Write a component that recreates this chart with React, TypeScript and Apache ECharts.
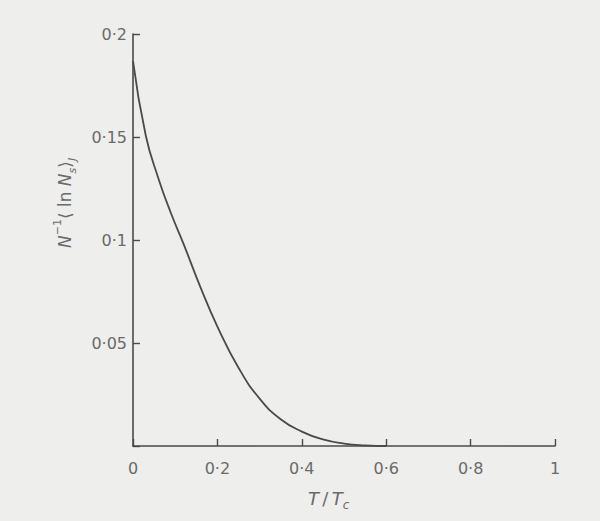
import React, { useEffect, useRef } from "react";
import * as echarts from "echarts";

const tValues = [0, 0.03, 0.06, 0.09, 0.12, 0.16, 0.2, 0.25, 0.3, 0.35, 0.4, 0.45, 0.5, 0.55, 0.6];
const nValues = [0.187, 0.151, 0.13, 0.113, 0.098, 0.077, 0.058, 0.038, 0.023, 0.013, 0.007, 0.0032, 0.0012, 0.0003, 0];
const xTicks = [0, 0.2, 0.4, 0.6, 0.8, 1];
const yTicks = [0.05, 0.1, 0.15, 0.2];

const fmt = (v: number) => (v === 0 ? "0" : v === 1 ? "1" : String(v).replace(".", "·"));

export default function App() {
  const ref = useRef<HTMLDivElement>(null);
  useEffect(() => {
    const chart = echarts.init(ref.current!, null, { renderer: "svg" });
    const ink = "#4a4a4a";
    const labelColor = "#6a6a6a";
    chart.setOption({
      animation: false,
      backgroundColor: "#eeeeec",
      grid: { left: 133, right: 45, top: 34, bottom: 75 },
      xAxis: {
        type: "value",
        min: 0,
        max: 1,
        interval: 0.2,
        axisLine: { lineStyle: { color: ink, width: 1.6 } },
        axisTick: { inside: true, length: 7, lineStyle: { color: ink, width: 1.4 } },
        splitLine: { show: false },
        axisLabel: {
          color: labelColor,
          fontSize: 16,
          fontFamily: "DejaVu Sans",
          margin: 14,
          formatter: (v: number) => (xTicks.includes(Math.round(v * 10) / 10) ? fmt(Math.round(v * 10) / 10) : ""),
        },
      },
      yAxis: {
        type: "value",
        min: 0,
        max: 0.2,
        interval: 0.05,
        axisLine: { lineStyle: { color: ink, width: 1.6 } },
        axisTick: { inside: true, length: 7, lineStyle: { color: ink, width: 1.4 } },
        splitLine: { show: false },
        axisLabel: {
          color: labelColor,
          fontSize: 16,
          fontFamily: "DejaVu Sans",
          margin: 6,
          formatter: (v: number) => {
            const r = Math.round(v * 100) / 100;
            return yTicks.includes(r) ? fmt(r) : "";
          },
        },
      },
      series: [
        {
          type: "line",
          data: tValues.map((t, i) => [t, nValues[i]]),
          smooth: 0.5,
          showSymbol: false,
          lineStyle: { color: ink, width: 1.8 },
        },
      ],
      graphic: [
        {
          type: "text",
          x: 52,
          y: 248,
          rotation: Math.PI / 2,
          style: {
            text: "{i|N}{sup|−1}{n|⟨ ln }{i|N}{sub|s}{n|⟩}{sub|J}",
            fill: labelColor,
            rich: {
              i: { fontSize: 17, fontStyle: "italic", fontFamily: "DejaVu Sans", fill: labelColor, lineHeight: 26, verticalAlign: "middle" },
              n: { fontSize: 17, fontFamily: "DejaVu Sans", fill: labelColor, lineHeight: 26, verticalAlign: "middle" },
              sup: { fontSize: 11, fontFamily: "DejaVu Sans", fill: labelColor, lineHeight: 26, verticalAlign: "top", padding: [0, 0, 8, 0] },
              sub: { fontSize: 11, fontStyle: "italic", fontFamily: "DejaVu Sans", fill: labelColor, lineHeight: 26, verticalAlign: "bottom", padding: [8, 0, 0, 0] },
            },
          },
        },
        {
          type: "text",
          x: 308,
          y: 485,
          style: {
            text: "{i|T} {n|/} {i|T}{sub|c}",
            fill: labelColor,
            rich: {
              i: { fontSize: 18, fontStyle: "italic", fontFamily: "DejaVu Sans", fill: labelColor, lineHeight: 26, verticalAlign: "middle" },
              n: { fontSize: 18, fontFamily: "DejaVu Sans", fill: labelColor, lineHeight: 26, verticalAlign: "middle" },
              sub: { fontSize: 12, fontStyle: "italic", fontFamily: "DejaVu Sans", fill: labelColor, lineHeight: 26, verticalAlign: "bottom", padding: [8, 0, 0, 0] },
            },
          },
        },
      ],
    });
    return () => chart.dispose();
  }, []);
  return <div ref={ref} style={{ position: "fixed", left: 0, top: 0, width: 600, height: 521 }} />;
}
